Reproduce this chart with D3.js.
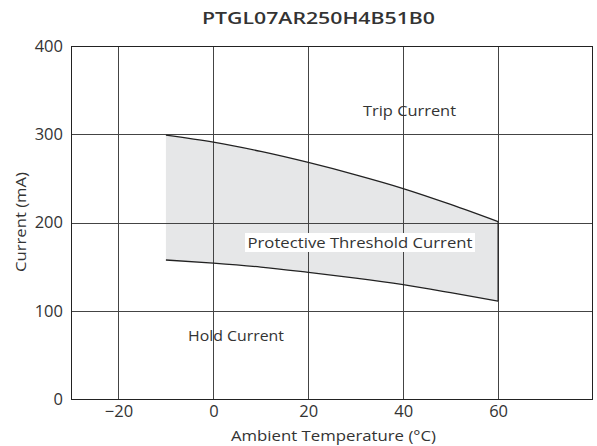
<!DOCTYPE html>
<html>
<head>
<meta charset="utf-8">
<script src="https://cdn.jsdelivr.net/npm/d3@7"></script>
<style>
body { margin: 0; background: #fff; }
svg { display: block; }
text { font-family: "Open Sans", sans-serif; fill: #333; }
</style>
</head>
<body>
<svg id="chart" width="597" height="446"></svg>
<script>
const title = "PTGL07AR250H4B51B0";
const temps = [-10, 0, 10, 20, 30, 40, 50, 60];
const tripCurrent = [299, 291, 280.5, 268, 254, 238.5, 220.5, 201];
const holdCurrent = [157.5, 154, 149.5, 143.5, 137, 129.5, 120.5, 111];
const xTicks = [-20, 0, 20, 40, 60];
const yTicks = [0, 100, 200, 300, 400];

const svg = d3.select("#chart");
const margin = {left: 71, right: 4, top: 46, bottom: 47};
const W = 597, H = 446;
const x = d3.scaleLinear().domain([-30, 80]).range([margin.left, W - margin.right]);
const y = d3.scaleLinear().domain([0, 400]).range([H - margin.bottom, margin.top]);

const data = temps.map((t, i) => ({t, trip: tripCurrent[i], hold: holdCurrent[i]}));
const curve = d3.curveMonotoneX;

// fill band
svg.append("path")
  .datum(data)
  .attr("fill", "#e6e7e8")
  .attr("d", d3.area().x(d => x(d.t)).y0(d => y(d.hold)).y1(d => y(d.trip)).curve(curve));

// gridlines
const grid = svg.append("g").attr("stroke", "#444").attr("stroke-width", 1);
grid.selectAll(".vg").data(xTicks).join("line")
  .attr("x1", d => Math.round(x(d)) + 0.5).attr("x2", d => Math.round(x(d)) + 0.5)
  .attr("y1", y(0)).attr("y2", y(400));
grid.selectAll(".hg").data(yTicks.slice(1, -1)).join("line")
  .attr("y1", d => Math.round(y(d)) + 0.5).attr("y2", d => Math.round(y(d)) + 0.5)
  .attr("x1", x(-30)).attr("x2", x(80));

// curves
const line = (key) => d3.line().x(d => x(d.t)).y(d => y(d[key])).curve(curve);
svg.append("path").datum(data).attr("fill", "none").attr("stroke", "#222").attr("stroke-width", 1.3).attr("d", line("trip"));
svg.append("path").datum(data).attr("fill", "none").attr("stroke", "#222").attr("stroke-width", 1.3).attr("d", line("hold"));
svg.append("line").attr("x1", x(60)).attr("x2", x(60)).attr("y1", y(tripCurrent[7])).attr("y2", y(holdCurrent[7]))
  .attr("stroke", "#222").attr("stroke-width", 1.2);

// frame
svg.append("rect")
  .attr("x", x(-30) + 0.5).attr("y", y(400) + 0.5)
  .attr("width", x(80) - x(-30) - 1).attr("height", y(0) - y(400))
  .attr("fill", "none").attr("stroke", "#222").attr("stroke-width", 1);

// axes
const xAxis = svg.append("g").attr("transform", `translate(0,${y(0)})`)
  .call(d3.axisBottom(x).tickValues(xTicks).tickSize(0).tickPadding(6).tickFormat(d => d < 0 ? "\u2212" + Math.abs(d) : d));
xAxis.select(".domain").remove();
xAxis.selectAll("text").attr("font-size", 16.5).attr("font-family", "Open Sans, sans-serif").attr("fill", "#333");

const yAxis = svg.append("g").attr("transform", `translate(${x(-30)},0)`)
  .call(d3.axisLeft(y).tickValues(yTicks).tickSize(0).tickPadding(8));
yAxis.select(".domain").remove();
yAxis.selectAll("text").attr("font-size", 16.5).attr("font-family", "Open Sans, sans-serif").attr("fill", "#333");

// titles
svg.append("text").attr("x", 318.5).attr("y", 24).attr("text-anchor", "middle")
  .attr("font-size", 17).attr("font-weight", 600).attr("fill", "#222")
  .attr("textLength", 233).attr("lengthAdjust", "spacingAndGlyphs").text(title);
svg.append("text").attr("x", 333.5).attr("y", 441).attr("text-anchor", "middle")
  .attr("font-size", 15).attr("textLength", 205).attr("lengthAdjust", "spacingAndGlyphs").text("Ambient Temperature (\u00B0C)");
svg.append("text").attr("transform", "translate(26,222) rotate(-90)").attr("text-anchor", "middle")
  .attr("font-size", 15).attr("textLength", 100).attr("lengthAdjust", "spacingAndGlyphs").text("Current (mA)");

// annotations
svg.append("text").attr("x", 409.5).attr("y", 116).attr("text-anchor", "middle").attr("font-size", 15)
  .attr("textLength", 93).attr("lengthAdjust", "spacingAndGlyphs").text("Trip Current");
svg.append("text").attr("x", 236).attr("y", 341).attr("text-anchor", "middle").attr("font-size", 15)
  .attr("textLength", 96).attr("lengthAdjust", "spacingAndGlyphs").text("Hold Current");
const lbl = svg.append("g");
lbl.append("rect").attr("x", 245).attr("y", 233).attr("width", 230).attr("height", 19).attr("fill", "#fff");
lbl.append("text").attr("x", 360).attr("y", 248).attr("text-anchor", "middle").attr("font-size", 15)
  .attr("textLength", 225).attr("lengthAdjust", "spacingAndGlyphs").text("Protective Threshold Current");
</script>
</body>
</html>
